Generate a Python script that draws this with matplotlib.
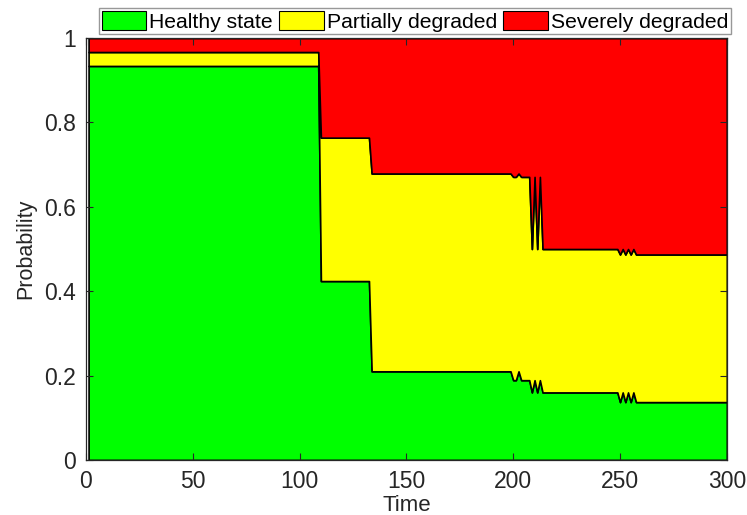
import numpy as np
import matplotlib
matplotlib.use("Agg")
from matplotlib import pyplot as plt
from matplotlib.patches import Patch

plt.rcParams['font.family'] = ['Liberation Sans', 'DejaVu Sans']

# breakpoints of the state probabilities over time
time = [1.25, 108.75, 110, 132.5, 133.75, 198.75, 200, 201.25, 202.5, 203.75,
        207.5, 208.75, 210, 211.25, 212.5, 213.75, 248.75, 250, 251.25, 252.5,
        253.75, 255, 256.25, 257.5, 300]
healthy = [0.934, 0.934, 0.424, 0.424, 0.210, 0.210, 0.189, 0.189, 0.210, 0.189,
           0.189, 0.160, 0.189, 0.160, 0.189, 0.160, 0.160, 0.137, 0.160, 0.137,
           0.160, 0.137, 0.160, 0.137, 0.137]
partial = [0.033, 0.033, 0.340, 0.340, 0.469, 0.469, 0.482, 0.482, 0.469, 0.482,
           0.482, 0.340, 0.482, 0.340, 0.482, 0.340, 0.340, 0.350, 0.340, 0.350,
           0.340, 0.350, 0.340, 0.350, 0.350]
severe = [0.033, 0.033, 0.236, 0.236, 0.321, 0.321, 0.329, 0.329, 0.321, 0.329,
          0.329, 0.500, 0.329, 0.500, 0.329, 0.500, 0.500, 0.513, 0.500, 0.513,
          0.500, 0.513, 0.500, 0.513, 0.513]

labels = ["Healthy state", "Partially degraded", "Severely degraded"]
colors = ["#00ff00", "#ffff00", "#ff0000"]
AXCOL = "#262626"

fig = plt.figure(figsize=(7.47, 5.15), dpi=100)
ax = fig.add_axes([0.115, 0.107, 0.858, 0.819])

ax.stackplot(time, healthy, partial, severe, colors=colors,
             edgecolor="black", linewidth=1.2)

ax.set_xlim(0, 300)
ax.set_ylim(0, 1)
ax.set_xticks([0, 50, 100, 150, 200, 250, 300])
ax.set_yticks([0, 0.2, 0.4, 0.6, 0.8, 1])
ax.set_yticklabels(["0", "0.2", "0.4", "0.6", "0.8", "1"])
ax.tick_params(direction="in", length=5, width=0.8, top=True, right=True,
               labelsize=16.5, colors=AXCOL, pad=7)
for s in ax.spines.values():
    s.set_color(AXCOL)
    s.set_linewidth(0.9)

ax.set_xlabel("Time", fontsize=16, color=AXCOL, labelpad=2)
ax.set_ylabel("Probability", fontsize=15.5, color=AXCOL, labelpad=6)

handles = [Patch(facecolor=c, edgecolor="black", linewidth=0.8) for c in colors]
leg = fig.legend(handles, labels, ncol=3, loc="upper center",
                 bbox_to_anchor=(0.5555, 0.984), fontsize=15.2, frameon=True,
                 fancybox=False, edgecolor="#7f7f7f", handlelength=2.1,
                 handleheight=1.05, handletextpad=0.15, columnspacing=0.3,
                 borderpad=0.12, borderaxespad=0)
leg.get_frame().set_linewidth(1.0)

fig.savefig("out.png", dpi=100)
